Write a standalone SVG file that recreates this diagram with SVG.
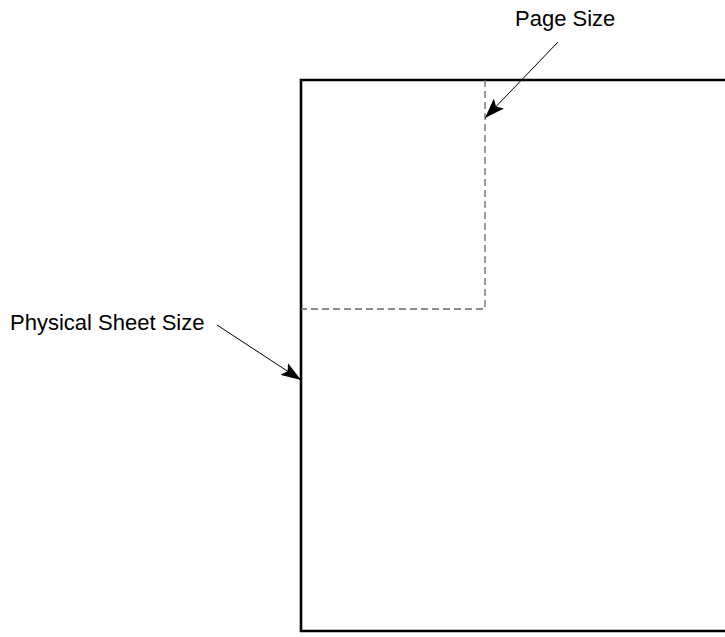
<svg xmlns="http://www.w3.org/2000/svg" width="725" height="637" viewBox="0 0 725 637">
  <style>
    .label { font-family: "Liberation Sans", Arial, sans-serif; font-size: 22px; fill: #000; }
    .sheet { fill: none; stroke: #000; stroke-width: 2.6; }
    .page { fill: none; stroke: #666; stroke-width: 1.3; stroke-dasharray: 7 4; }
    .leader { stroke: #000; stroke-width: 1; fill: none; marker-end: url(#head); }
  </style>
  <defs>
    <marker id="head" markerUnits="userSpaceOnUse" markerWidth="21" markerHeight="14" refX="20" refY="7" orient="auto" viewBox="0 0 21 14">
      <path d="M0,0 L20,7 L0,14 L4,7 Z" fill="#000"/>
    </marker>
  </defs>
  <rect width="725" height="637" fill="#fff"/>
  <!-- physical sheet: right edge runs off the canvas -->
  <g id="sheet">
    <path class="sheet" d="M740,80 H301 V631 H740"/>
  </g>
  <!-- printable page area -->
  <g id="page">
    <path class="page" d="M485,80 V309 H301"/>
  </g>
  <g id="page-size-label">
    <text class="label" x="515" y="26">Page Size</text>
  </g>
  <g id="sheet-size-label">
    <text class="label" x="10" y="330">Physical Sheet Size</text>
  </g>
  <g id="connectors">
    <line class="leader" x1="558" y1="42" x2="485" y2="118"/>
    <line class="leader" x1="217" y1="325" x2="301" y2="380"/>
  </g>
</svg>
